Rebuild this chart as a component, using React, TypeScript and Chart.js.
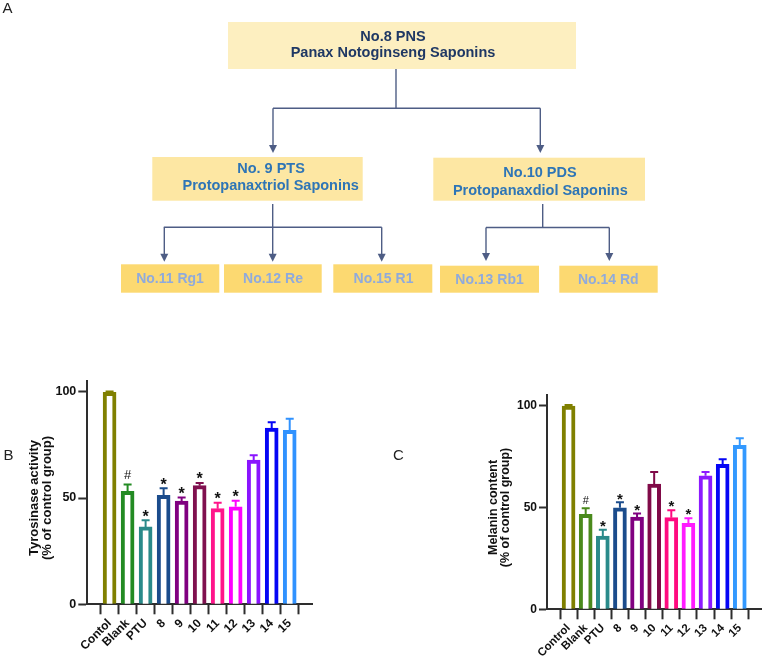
import React, { useEffect, useRef } from 'react';
import { Chart, registerables } from 'chart.js';

Chart.register(...registerables);

const FONT = '"Liberation Sans", Arial, Helvetica, sans-serif';

// ---------- Data ----------
const categoriesB = ['Contol', 'Blank', 'PTU', '8', '9', '10', '11', '12', '13', '14', '15'];
const categoriesC = ['Control', 'Blank', 'PTU', '8', '9', '10', '11', '12', '13', '14', '15'];

const tyrosinaseValues = [99.7, 53.2, 36.4, 51.3, 48.6, 55.8, 45.0, 45.9, 67.9, 82.9, 81.8];
const tyrosinaseErrors = [0.4, 3.2, 3.1, 3.3, 1.7, 1.3, 2.8, 2.8, 2.2, 2.8, 5.5];
const tyrosinaseMarks = ['', '#', '*', '*', '*', '*', '*', '*', '', '', ''];

const melaninValues = [99.7, 46.6, 36.0, 49.8, 45.3, 61.5, 45.0, 42.2, 65.5, 71.2, 80.5];
const melaninErrors = [0.6, 3.0, 3.1, 2.7, 1.7, 5.9, 3.6, 2.5, 1.9, 2.4, 3.5];
const melaninMarks = ['', '#', '*', '*', '*', '', '*', '*', '', '', ''];

const yTickValues = [0, 50, 100];

const colorsB = ['#808000', '#238B23', '#2A8A8A', '#1B4C8C', '#800080', '#80104F', '#FF158A', '#FF00FF', '#8A14FF', '#0505F5', '#3092FF'];
const colorsC = ['#808000', '#4A8A1C', '#2A8A8A', '#1B4C8C', '#800080', '#800A48', '#FF0A80', '#FF1AFF', '#8C1AFF', '#0505F5', '#3399FF'];

type PanelCfg = {
  categories: string[];
  values: number[];
  errors: number[];
  marks: string[];
  colors: string[];
  title: string[];
  titleX: number[];
  titleFont: number;
  tickFont: number;
  xTickFont: number;
  padTop: number;
  padRight: number;
  yAxisW: number;
  xAxisH: number;
  xMin: number;
  xMax: number;
  yTickLen: number;
  starSize: number;
  starGap: number;
  hashSize: number;
  hashGap: number;
};

function makeOverlay(cfg: PanelCfg) {
  return {
    id: 'overlay',
    afterDatasetsDraw(chart: any) {
      const { ctx, scales } = chart;
      const x = scales.x;
      const y = scales.y;
      ctx.save();
      cfg.values.forEach((v, i) => {
        const px = x.getPixelForValue(i);
        const yBar = y.getPixelForValue(v);
        const yTop = y.getPixelForValue(v + cfg.errors[i]);
        ctx.strokeStyle = cfg.colors[i];
        ctx.lineWidth = 2;
        ctx.beginPath();
        ctx.moveTo(px, yBar);
        ctx.lineTo(px, yTop);
        ctx.moveTo(px - 4, yTop);
        ctx.lineTo(px + 4, yTop);
        ctx.stroke();
        const m = cfg.marks[i];
        if (m) {
          ctx.fillStyle = '#111';
          ctx.textAlign = 'center';
          ctx.textBaseline = 'alphabetic';
          let gap: number;
          if (m === '*') {
            ctx.font = `bold ${cfg.starSize}px ${FONT}`;
            gap = cfg.starGap;
          } else {
            ctx.font = `${cfg.hashSize}px ${FONT}`;
            gap = cfg.hashGap;
          }
          const desc = ctx.measureText(m).actualBoundingBoxDescent || 0;
          ctx.fillText(m, px, yTop - gap - desc);
        }
      });
      // y axis title
      const cy = y.getPixelForValue(50);
      ctx.fillStyle = '#111';
      ctx.font = `bold ${cfg.titleFont}px ${FONT}`;
      ctx.textAlign = 'center';
      ctx.textBaseline = 'alphabetic';
      cfg.title.forEach((line, k) => {
        ctx.save();
        ctx.translate(cfg.titleX[k], cy);
        ctx.rotate(-Math.PI / 2);
        ctx.fillText(line, 0, 0);
        ctx.restore();
      });
      ctx.restore();
    },
  };
}

function buildChart(canvas: HTMLCanvasElement, cfg: PanelCfg) {
  const axisColor = '#2E2E2E';
  return new Chart(canvas, {
    type: 'bar',
    data: {
      datasets: [
        {
          data: cfg.values.map((v, i) => ({ x: i, y: v })),
          backgroundColor: '#FFFFFF',
          borderColor: cfg.colors,
          borderWidth: 4,
          barThickness: 13,
          borderSkipped: 'start',
        } as any,
      ],
    },
    options: {
      responsive: false,
      animation: false,
      devicePixelRatio: 1,
      layout: { padding: { left: 0, top: cfg.padTop, right: cfg.padRight, bottom: 0 } },
      plugins: { legend: { display: false }, tooltip: { enabled: false } },
      scales: {
        x: {
          type: 'linear',
          min: cfg.xMin,
          max: cfg.xMax,
          afterBuildTicks: (s: any) => {
            s.ticks = cfg.categories.map((_, i) => ({ value: i }));
          },
          afterFit: (s: any) => {
            s.height = cfg.xAxisH;
            s.paddingLeft = 0;
            s.paddingRight = 0;
          },
          ticks: {
            autoSkip: false,
            minRotation: 45,
            maxRotation: 45,
            padding: 2,
            color: '#111',
            font: { family: FONT, size: cfg.xTickFont, weight: 'bold' },
            callback: (v: any) => cfg.categories[v] ?? '',
          },
          grid: { drawOnChartArea: false, drawTicks: true, tickLength: 10, tickWidth: 2, tickColor: axisColor },
          border: { display: true, color: axisColor, width: 2 },
        },
        y: {
          min: 0,
          max: 105,
          afterBuildTicks: (s: any) => {
            s.ticks = yTickValues.map((v) => ({ value: v }));
          },
          afterFit: (s: any) => {
            s.width = cfg.yAxisW;
          },
          ticks: {
            padding: 2,
            color: '#111',
            font: { family: FONT, size: cfg.tickFont, weight: 'bold' },
          },
          grid: { drawOnChartArea: false, drawTicks: true, tickLength: cfg.yTickLen, tickWidth: 2, tickColor: axisColor },
          border: { display: true, color: axisColor, width: 2 },
        },
      },
    } as any,
    plugins: [makeOverlay(cfg)],
  });
}

const panelB: PanelCfg = {
  categories: categoriesB,
  values: tyrosinaseValues,
  errors: tyrosinaseErrors,
  marks: tyrosinaseMarks,
  colors: colorsB,
  title: ['Tyrosinase activity', '(% of control group)'],
  titleX: [38.3, 50.6],
  titleFont: 13,
  tickFont: 12.5,
  xTickFont: 12,
  padTop: 11.1,
  padRight: 18,
  yAxisW: 87.3,
  xAxisH: 51.7,
  xMin: -0.67,
  xMax: 10.67,
  yTickLen: 9,
  starSize: 16,
  starGap: 3.5,
  hashSize: 13,
  hashGap: 5,
};

const panelC: PanelCfg = {
  categories: categoriesC,
  values: melaninValues,
  errors: melaninErrors,
  marks: melaninMarks,
  colors: colorsC,
  title: ['Melanin content', '(% of control group)'],
  titleX: [106.7, 119],
  titleFont: 12.5,
  tickFont: 12,
  xTickFont: 11.5,
  padTop: 25.4,
  padRight: 2.3,
  yAxisW: 157,
  xAxisH: 46.7,
  xMin: -0.69,
  xMax: 10.71,
  yTickLen: 8,
  starSize: 15,
  starGap: 2.8,
  hashSize: 11,
  hashGap: 4.3,
};

function Panel({ cfg, left, top, width, height }: { cfg: PanelCfg; left: number; top: number; width: number; height: number }) {
  const ref = useRef<HTMLCanvasElement | null>(null);
  useEffect(() => {
    if (!ref.current) return;
    const chart = buildChart(ref.current, cfg);
    return () => chart.destroy();
  }, [cfg]);
  return (
    <canvas
      ref={ref}
      width={width}
      height={height}
      style={{ position: 'absolute', left, top, width, height }}
    />
  );
}

const LINE = '#4E5D85';

function Arrow({ x, y1, tip }: { x: number; y1: number; tip: number }) {
  return (
    <g>
      <line x1={x} y1={y1} x2={x} y2={tip - 7} stroke={LINE} strokeWidth={1.4} />
      <polygon points={`${x - 4},${tip - 8} ${x + 4},${tip - 8} ${x},${tip}`} fill={LINE} />
    </g>
  );
}

function Tree() {
  const bold = { fontFamily: FONT, fontWeight: 700, fontSize: 14.5 } as any;
  const bottomBoxes = [
    { x1: 121, x2: 219.3, y1: 264.3, label: 'No.11 Rg1', cx: 170, by: 283.3 },
    { x1: 224, x2: 321.7, y1: 264.3, label: 'No.12 Re', cx: 273, by: 283.3 },
    { x1: 333.3, x2: 432.3, y1: 264.3, label: 'No.15 R1', cx: 383.5, by: 283.3 },
    { x1: 440, x2: 539, y1: 265.7, label: 'No.13 Rb1', cx: 489.5, by: 284 },
    { x1: 559.3, x2: 657.7, y1: 265.7, label: 'No.14 Rd', cx: 608.3, by: 284 },
  ];
  return (
    <svg width={764} height={656} style={{ position: 'absolute', left: 0, top: 0 }}>
      <text x={2.4} y={12.7} fontFamily={FONT} fontSize={15} fill="#222">A</text>
      <text x={3.5} y={460} fontFamily={FONT} fontSize={15} fill="#222">B</text>
      <text x={393} y={460} fontFamily={FONT} fontSize={15} fill="#222">C</text>

      <rect x={228} y={22} width={348} height={47} fill="#FDEFC0" />
      <text x={393} y={40.7} textAnchor="middle" fill="#1F3864" {...bold}>No.8 PNS</text>
      <text x={393} y={57.3} textAnchor="middle" fill="#1F3864" {...bold}>Panax Notoginseng Saponins</text>

      <line x1={396} y1={69} x2={396} y2={108.3} stroke={LINE} strokeWidth={1.4} />
      <line x1={273} y1={108.3} x2={540.3} y2={108.3} stroke={LINE} strokeWidth={1.4} />
      <Arrow x={273} y1={108.3} tip={153} />
      <Arrow x={540.3} y1={108.3} tip={153} />

      <rect x={152.3} y={157} width={210.4} height={43.7} fill="#FDE7A3" />
      <text x={271} y={172.7} textAnchor="middle" fill="#2E75B6" {...bold}>No. 9 PTS</text>
      <text x={270.7} y={190} textAnchor="middle" fill="#2E75B6" {...bold}>Protopanaxtriol Saponins</text>

      <rect x={433.3} y={157.7} width={211.7} height={43} fill="#FDE7A3" />
      <text x={540} y={177.3} textAnchor="middle" fill="#2E75B6" {...bold}>No.10 PDS</text>
      <text x={540.3} y={194.7} textAnchor="middle" fill="#2E75B6" {...bold}>Protopanaxdiol Saponins</text>

      <line x1={272.7} y1={204} x2={272.7} y2={227.3} stroke={LINE} strokeWidth={1.4} />
      <line x1={163.8} y1={227.3} x2={381.7} y2={227.3} stroke={LINE} strokeWidth={1.4} />
      <Arrow x={164.3} y1={227.3} tip={261.7} />
      <Arrow x={272.7} y1={227.3} tip={261.7} />
      <Arrow x={381.7} y1={227.3} tip={261.7} />

      <line x1={542.7} y1={204} x2={542.7} y2={227.5} stroke={LINE} strokeWidth={1.4} />
      <line x1={486} y1={227.5} x2={609.3} y2={227.5} stroke={LINE} strokeWidth={1.4} />
      <Arrow x={486} y1={227.5} tip={261} />
      <Arrow x={609.3} y1={227.5} tip={261} />

      {bottomBoxes.map((b) => (
        <g key={b.label}>
          <rect x={b.x1} y={b.y1} width={b.x2 - b.x1} height={292.7 - b.y1} fill="#FCD971" />
          <text x={b.cx} y={b.by} textAnchor="middle" fill="#8FAADC" {...bold} fontSize={14}>{b.label}</text>
        </g>
      ))}
    </svg>
  );
}

export default function App() {
  return (
    <div style={{ position: 'absolute', left: 0, top: 0, width: 764, height: 656, background: '#fff', overflow: 'hidden' }}>
      <Panel cfg={panelB} left={0} top={370} width={330} height={286} />
      <Panel cfg={panelC} left={390} top={370} width={374} height={286} />
      <Tree />
    </div>
  );
}
